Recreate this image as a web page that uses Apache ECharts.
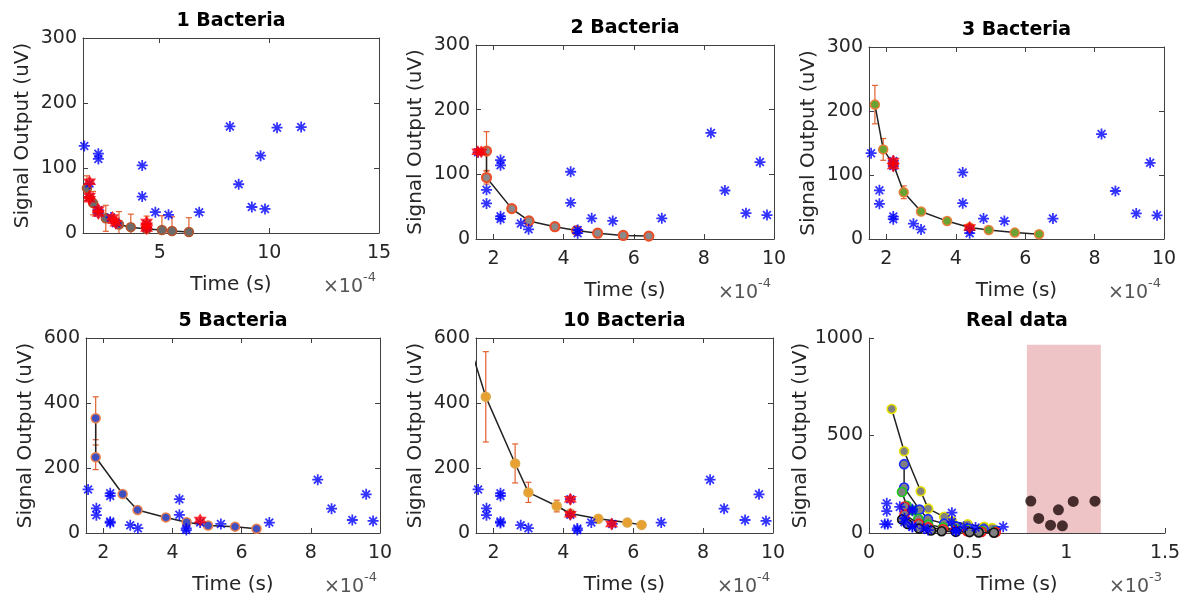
<!DOCTYPE html>
<html><head><meta charset="utf-8">
<script src="https://cdn.jsdelivr.net/npm/echarts@6/dist/echarts.min.js"></script>
<style>html,body{margin:0;padding:0;background:#fff}#c{width:1187px;height:603px}</style>
</head><body><div id="c"></div>
<script>
// ---------- DATA (time in 1e-4 s, signal in uV) ----------
const starTime   = [1.56, 1.8, 1.8, 2.2, 2.2, 2.2, 2.2, 2.78, 3.0, 4.2, 4.2, 4.4, 4.4, 4.8, 5.4, 6.8, 8.2, 8.6, 9.2, 9.6, 9.8, 10.35, 11.45];
const starSignal = [134, 76, 55, 122, 114, 35, 31, 24, 15, 104, 56, 14, 9, 32, 28, 32, 164, 75, 40, 119, 37, 162, 163];

const b1Time   = [1.68, 1.96, 2.54, 3.14, 3.68, 4.4, 5.1, 5.56, 6.33];
const b1Signal = [69, 46, 22.6, 13, 9, 6, 4.6, 3, 1.5];
const b1Err    = [19, 18, 20, 20, 20, 20, 22, 22, 22];
const b1RedTime   = [1.8, 1.8, 1.8, 2.2, 2.2, 2.85, 2.9, 3.0, 4.4, 4.4, 4.4];
const b1RedSignal = [79, 57, 52, 36, 30, 24, 19, 15, 17, 11, 7];

const b2Time   = [1.8, 1.8, 2.52, 3.01, 3.75, 4.37, 4.97, 5.7, 6.43];
const b2Signal = [136, 95, 47, 28, 19, 13, 9, 5.5, 4.5];
const b2Err    = [30, 10, 2, 2, 2, 2, 1, 1, 1];
const b2RedTime   = [1.55, 1.65];
const b2RedSignal = [135, 135];

const b3Time   = [1.67, 1.91, 2.2, 2.5, 3.0, 3.75, 4.4, 4.95, 5.7, 6.4];
const b3Signal = [210, 140, 117, 73, 43, 28, 18, 14, 10, 7.5];
const b3Err    = [30, 17, 5, 10, 3, 2, 2, 1, 1, 1];
const b3RedTime   = [2.2, 2.2, 4.4];
const b3RedSignal = [122, 114, 18];

const b5Time   = [1.78, 1.78, 2.56, 2.99, 3.81, 4.41, 5.03, 5.81, 6.43];
const b5Signal = [353, 233, 120, 71, 48, 33, 23, 19.5, 13];
const b5Err    = [66, 38, 5, 5, 3, 3, 2, 2, 2];
const b5RedTime   = [4.8];
const b5RedSignal = [40];

const b10Time   = [1.15, 1.78, 2.62, 3.0, 3.81, 4.2, 5.0, 5.83, 6.24];
const b10Signal = [636, 419, 214, 125, 83, 60, 44, 32, 25];
const b10Err    = [0, 139, 60, 31, 18, 3, 3, 2, 2];
const b10RedTime   = [4.2, 4.2, 5.38];
const b10RedSignal = [104, 58, 28];

// real data panel (time in 1e-3 s)
const realExtraStarTime   = [0.08, 0.09, 0.09, 0.095];
const realExtraStarSignal = [46, 152, 112, 46];
const shadeStart = 0.8, shadeEnd = 1.175, shadeTop = 965;

const xTicksWide = [5, 10, 15];
const xTicksNarrow = [2, 4, 6, 8, 10];

// ---------- STYLE ----------
const FONT = 'DejaVu Sans';
const AX = '#404040', TXT = '#262626';
const ERR = '#E2602E';
const STAR = 'path://M-5,-0.8L5,-0.8L5,0.8L-5,0.8Z M-0.8,-5L0.8,-5L0.8,5L-0.8,5Z M-2.97,-4.1L4.1,2.97L2.97,4.1L-4.1,-2.97Z M4.1,-2.97L-2.97,4.1L-4.1,2.97L2.97,-4.1Z';
const HEX = 'path://M0,-5L1.445,-2.5L4.33,-2.5L2.89,0L4.33,2.5L1.445,2.5L0,5L-1.445,2.5L-4.33,2.5L-2.89,0L-4.33,-2.5L-1.445,-2.5Z';

const grids = [], xAxes = [], yAxes = [], series = [], graphics = [];
const zip = (a, b, f) => a.map((t, i) => [f ? f(t) : t, b[i]]);
const plain = v => String(v);

function axisCommon(gi, min, max) {
  return { type: 'value', gridIndex: gi, min: min, max: max, splitLine: { show: false },
    axisLine: { show: true, onZero: false, lineStyle: { color: AX, width: 1 } } };
}

function addPanel(p) {
  const gi = grids.length;
  const [L, T, W, H] = p.box;
  grids.push({ left: L, top: T, width: W, height: H, containLabel: false, outerBoundsMode: 'none' });
  const xi = xAxes.length;
  xAxes.push(Object.assign(axisCommon(gi, p.xMin, p.xMax), {
    position: 'bottom', interval: p.xInterval,
    axisTick: Object.assign({ inside: true, length: 5, lineStyle: { color: AX } }, p.xTicks ? { customValues: p.xTicks } : {}),
    axisLabel: Object.assign({ fontFamily: FONT, fontSize: 19, color: TXT, margin: 11, formatter: plain }, p.xTicks ? { customValues: p.xTicks } : {}),
    name: 'Time (s)', nameLocation: 'middle', nameGap: 42,
    nameTextStyle: { fontFamily: FONT, fontSize: 20, color: TXT }
  }));
  const yi = yAxes.length;
  yAxes.push(Object.assign(axisCommon(gi, 0, p.yMax), {
    position: 'left', interval: p.yInterval,
    axisTick: { inside: true, length: 5, lineStyle: { color: AX } },
    axisLabel: { fontFamily: FONT, fontSize: 19, color: TXT, margin: 6, formatter: plain },
    name: 'Signal Output (uV)', nameLocation: 'middle', nameGap: 50, nameRotate: 90,
    nameTextStyle: { fontFamily: FONT, fontSize: 20, color: TXT }
  }));
  if (p.boxOn) {
    xAxes.push(Object.assign(axisCommon(gi, p.xMin, p.xMax), {
      position: 'top', interval: p.xInterval,
      axisTick: Object.assign({ inside: true, length: 5, lineStyle: { color: AX } }, p.xTicks ? { customValues: p.xTicks } : {}),
      axisLabel: Object.assign({ show: false }, p.xTicks ? { customValues: p.xTicks } : {})
    }));
    yAxes.push(Object.assign(axisCommon(gi, 0, p.yMax), {
      position: 'right', interval: p.yInterval,
      axisTick: { inside: true, length: 5, lineStyle: { color: AX } },
      axisLabel: { show: false }
    }));
  }
  graphics.push({ type: 'text', z: 100, style: { text: p.title, x: L + W / 2, y: T - 17, align: 'center', verticalAlign: 'middle',
    fontFamily: FONT, fontWeight: 'bold', fontSize: 19, fill: '#000' } });
  graphics.push({ type: 'text', z: 100, style: { text: '\u00d710', x: L + W - 16, y: T + H + 54, align: 'right', verticalAlign: 'middle',
    fontFamily: FONT, fontSize: 19, fill: '#555' } });
  graphics.push({ type: 'text', z: 100, style: { text: p.exp, x: L + W - 16, y: T + H + 45, align: 'left', verticalAlign: 'middle',
    fontFamily: FONT, fontSize: 13, fill: '#555' } });
  return { xi, yi };
}

function errorSeries(ax, t, s, e) {
  return {
    type: 'custom', xAxisIndex: ax.xi, yAxisIndex: ax.yi, z: 2, silent: true,
    data: t.map((x, i) => [x, s[i] - e[i], s[i] + e[i]]),
    encode: { x: 0, y: [1, 2] },
    renderItem: (params, api) => {
      const cs = params.coordSys;
      const x = api.value(0);
      const ph = api.coord([x, api.value(2)]), pl = api.coord([x, api.value(1)]);
      if (ph[0] < cs.x || ph[0] > cs.x + cs.width) return;
      const top = cs.y, bot = cs.y + cs.height;
      const y1 = Math.max(top, Math.min(bot, ph[1])), y2 = Math.max(top, Math.min(bot, pl[1]));
      const st = { stroke: ERR, lineWidth: 1.2 };
      const ch = [{ type: 'line', shape: { x1: ph[0], y1: y1, x2: ph[0], y2: y2 }, style: st }];
      if (ph[1] >= top && ph[1] <= bot) ch.push({ type: 'line', shape: { x1: ph[0] - 3, y1: ph[1], x2: ph[0] + 3, y2: ph[1] }, style: st });
      if (pl[1] >= top && pl[1] <= bot) ch.push({ type: 'line', shape: { x1: pl[0] - 3, y1: pl[1], x2: pl[0] + 3, y2: pl[1] }, style: st });
      return { type: 'group', children: ch };
    }
  };
}
function lineSeries(ax, data, fill, border, bw, z) {
  return { type: 'line', xAxisIndex: ax.xi, yAxisIndex: ax.yi, data: data, clip: true, z: z || 3,
    symbol: 'circle', symbolSize: 9, showAllSymbol: true, animation: false,
    lineStyle: { color: '#222', width: 1.5 },
    itemStyle: { color: fill, borderColor: border, borderWidth: bw } };
}
function starSeries(ax, data) {
  return { type: 'scatter', xAxisIndex: ax.xi, yAxisIndex: ax.yi, data: data, clip: true, z: 4,
    symbol: STAR, symbolSize: 11, itemStyle: { color: '#0000ff' } };
}
function redSeries(ax, data) {
  return { type: 'scatter', xAxisIndex: ax.xi, yAxisIndex: ax.yi, data: data, clip: true, z: 5,
    symbol: HEX, symbolSize: 13, itemStyle: { color: '#ff0000' } };
}

const stars = zip(starTime, starSignal);
const panels = [
  { title: '1 Bacteria', box: [83, 38, 296, 195], xMin: 1.5, xMax: 15, xTicks: xTicksWide, yMax: 300, yInterval: 100, exp: '-4',
    t: b1Time, s: b1Signal, e: b1Err, rt: b1RedTime, rs: b1RedSignal, fill: '#6b6b6b', border: '#b5532c', bw: 1.5 },
  { title: '2 Bacteria', box: [476, 45, 298, 194], xMin: 1.5, xMax: 10, xTicks: xTicksNarrow, yMax: 300, yInterval: 100, exp: '-4',
    t: b2Time, s: b2Signal, e: b2Err, rt: b2RedTime, rs: b2RedSignal, fill: '#8a8a8a', border: '#E8502A', bw: 2.2 },
  { title: '3 Bacteria', box: [869, 47, 295, 192], xMin: 1.5, xMax: 10, xTicks: xTicksNarrow, yMax: 300, yInterval: 100, exp: '-4',
    t: b3Time, s: b3Signal, e: b3Err, rt: b3RedTime, rs: b3RedSignal, fill: '#6aa233', border: '#E8803A', bw: 1.5 },
  { title: '5 Bacteria', box: [86, 338, 294, 195], xMin: 1.5, xMax: 10, xTicks: xTicksNarrow, yMax: 600, yInterval: 200, exp: '-4',
    t: b5Time, s: b5Signal, e: b5Err, rt: b5RedTime, rs: b5RedSignal, fill: '#3f4fc0', border: '#E88050', bw: 1.5 },
  { title: '10 Bacteria', box: [476, 338, 297, 195], xMin: 1.5, xMax: 10, xTicks: xTicksNarrow, yMax: 600, yInterval: 200, exp: '-4',
    t: b10Time, s: b10Signal, e: b10Err, rt: b10RedTime, rs: b10RedSignal, fill: '#E8A030', border: '#E0A848', bw: 1.5 }
];
panels.forEach(p => {
  p.boxOn = true;
  const ax = addPanel(p);
  series.push(errorSeries(ax, p.t, p.s, p.e));
  series.push(lineSeries(ax, zip(p.t, p.s), p.fill, p.border, p.bw));
  series.push(starSeries(ax, stars));
  series.push(redSeries(ax, zip(p.rt, p.rs)));
});

// real data panel
const axR = addPanel({ title: 'Real data', box: [869, 338, 296, 195], xMin: 0, xMax: 1.5, xInterval: 0.5, yMax: 1000, yInterval: 500, exp: '-3', boxOn: false });
const toMs = t => t / 10;
const realSets = [
  [b10Time, b10Signal, '#e6e000'],
  [b5Time, b5Signal, '#1a2cff'],
  [b3Time, b3Signal, '#18c818'],
  [b2Time, b2Signal, '#ff1a1a'],
  [b1Time, b1Signal, '#111111']
];
realSets.forEach((r, k) => series.push(lineSeries(axR, zip(r[0], r[1], toMs), '#808080', r[2], 1.6, 3 + k * 0.01)));
const realStars = zip(starTime, starSignal, toMs).filter(d => d[0] < shadeStart).concat(zip(realExtraStarTime, realExtraStarSignal));
series.push(starSeries(axR, realStars));
series.push({ type: 'scatter', xAxisIndex: axR.xi, yAxisIndex: axR.yi, z: 4, symbol: 'circle', symbolSize: 11,
  data: zip(starTime, starSignal, toMs).filter(d => d[0] >= shadeStart), itemStyle: { color: '#1c0606' },
  markArea: { silent: true, itemStyle: { color: '#EFC4C6', opacity: 1 }, data: [[{ coord: [shadeStart, 0] }, { coord: [shadeEnd, shadeTop] }]] } });

const chart = echarts.init(document.getElementById('c'), null, { renderer: 'canvas' });
chart.setOption({ animation: false, backgroundColor: '#fff', grid: grids, xAxis: xAxes, yAxis: yAxes, series: series, graphic: graphics });
</script></body></html>
